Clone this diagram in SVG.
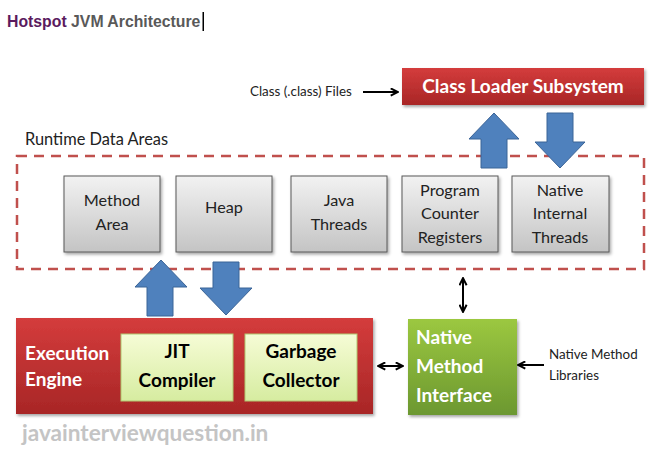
<svg xmlns="http://www.w3.org/2000/svg" width="663" height="455" viewBox="0 0 663 455">
<style>
.t{font-family:Lato,"Open Sans","Liberation Sans",sans-serif}
.gray{fill:url(#gg);stroke:#595959;stroke-width:1}
.gt{font-size:16.2px;fill:#222;text-anchor:middle}
.wb{font-size:19px;font-weight:bold;fill:#fff}
.kb{font-size:19px;font-weight:bold;fill:#000;text-anchor:middle}
.sm{font-size:13.4px;fill:#222}
.blue{fill:#4f81bd;stroke:#3b6497;stroke-width:1}
.ln{stroke:#000;stroke-width:2;fill:none}
</style>
<defs>
<linearGradient id="gg" x1="0" y1="0" x2="0" y2="1"><stop offset="0" stop-color="#f2f2f2"/><stop offset="1" stop-color="#c4c4c4"/></linearGradient>
<linearGradient id="rg" x1="0" y1="0" x2="0" y2="1"><stop offset="0" stop-color="#d43c3c"/><stop offset="1" stop-color="#a82626"/></linearGradient>
<linearGradient id="yg" x1="0" y1="0" x2="0" y2="1"><stop offset="0" stop-color="#f6fcd6"/><stop offset="1" stop-color="#d6eca0"/></linearGradient>
<linearGradient id="ng" x1="0" y1="0" x2="0" y2="1"><stop offset="0" stop-color="#9cc840"/><stop offset="1" stop-color="#6c9830"/></linearGradient>
<filter id="sh" x="-10%" y="-10%" width="130%" height="140%"><feDropShadow dx="1.5" dy="2" stdDeviation="1.5" flood-color="#000" flood-opacity="0.35"/></filter>
<marker id="ah" viewBox="0 0 10 10" refX="8" refY="5" markerWidth="4.5" markerHeight="4.5" orient="auto-start-reverse"><path d="M1,1 L9,5 L1,9" fill="none" stroke="#000" stroke-width="2.2"/></marker>
</defs>
<rect width="663" height="455" fill="#fff"/>

<g id="title">
<text x="7" y="27" font-family="'Liberation Sans',Arial,sans-serif" font-size="15.8" font-weight="bold"><tspan fill="#5b1a5e">Hotspot</tspan><tspan fill="#595959"> JVM Architecture</tspan></text>
<rect x="202.5" y="12" width="1.5" height="19" fill="#000"/>
</g>

<g id="class-files"><text class="t sm" x="250" y="96">Class (.class) Files</text></g>

<g id="class-loader">
<rect x="402" y="68" width="242" height="37" fill="url(#rg)" filter="url(#sh)"/>
<text class="t wb" x="523" y="93" text-anchor="middle" font-size="19.8">Class Loader Subsystem</text>
</g>

<g id="runtime-data-areas">
<text class="t" x="25" y="145" font-size="16.4" fill="#222">Runtime Data Areas</text>
<rect x="17" y="156" width="627" height="113" fill="none" stroke="#c0504d" stroke-width="2.5" stroke-dasharray="10 7"/>
</g>

<g id="method-area"><rect class="gray" x="64" y="176" width="96" height="76" filter="url(#sh)"/>
<text class="t gt" x="112" y="206">Method</text><text class="t gt" x="112" y="230">Area</text></g>
<g id="heap"><rect class="gray" x="176" y="176" width="96" height="76" filter="url(#sh)"/>
<text class="t gt" x="224" y="213">Heap</text></g>
<g id="java-threads"><rect class="gray" x="291" y="176" width="96" height="76" filter="url(#sh)"/>
<text class="t gt" x="339" y="206">Java</text><text class="t gt" x="339" y="230">Threads</text></g>
<g id="pc-registers"><rect class="gray" x="402" y="176" width="96" height="76" filter="url(#sh)"/>
<text class="t gt" x="450" y="196">Program</text><text class="t gt" x="450" y="219">Counter</text><text class="t gt" x="450" y="243">Registers</text></g>
<g id="native-internal-threads"><rect class="gray" x="512" y="176" width="97" height="76" filter="url(#sh)"/>
<text class="t gt" x="560" y="196">Native</text><text class="t gt" x="560" y="219">Internal</text><text class="t gt" x="560" y="243">Threads</text></g>

<g id="execution-engine">
<rect x="16" y="318" width="357" height="96" fill="url(#rg)" filter="url(#sh)"/>
<text class="t wb" x="25" y="360">Execution</text>
<text class="t wb" x="25" y="386">Engine</text>
</g>
<g id="jit-compiler"><rect x="121" y="334" width="112" height="67" fill="url(#yg)" stroke="#b0c870" stroke-width="1"/>
<text class="t kb" x="177" y="358">JIT</text><text class="t kb" x="177" y="387">Compiler</text></g>
<g id="garbage-collector"><rect x="245" y="334" width="112" height="67" fill="url(#yg)" stroke="#b0c870" stroke-width="1"/>
<text class="t kb" x="301" y="358">Garbage</text><text class="t kb" x="301" y="387">Collector</text></g>

<g id="native-method-interface">
<rect x="408" y="319" width="109" height="96" fill="url(#ng)" filter="url(#sh)"/>
<text class="t wb" x="416" y="344" font-size="19.5">Native</text>
<text class="t wb" x="416" y="373" font-size="19.5">Method</text>
<text class="t wb" x="416" y="402" font-size="19.5">Interface</text>
</g>

<g id="native-method-libraries"><text class="t sm" x="549" y="359">Native Method</text><text class="t sm" x="549" y="380">Libraries</text></g>

<g id="connectors">
<polygon class="blue" points="481,168 481,139 469,139 494,113 519,139 507,139 507,168"/>
<polygon class="blue" points="547,113 573,113 573,142 585,142 560,168 535,142 547,142"/>
<polygon class="blue" points="147,316 147,287 135,287 161,260 187,287 173,287 173,316"/>
<polygon class="blue" points="213,262 239,262 239,288 252,288 226,315 200,288 213,288"/>
<line class="ln" x1="363" y1="92" x2="397" y2="92" marker-end="url(#ah)"/>
<line class="ln" x1="544" y1="365" x2="519" y2="365" marker-end="url(#ah)"/>
<line class="ln" x1="379" y1="366" x2="402" y2="366" marker-start="url(#ah)" marker-end="url(#ah)"/>
<line class="ln" x1="463" y1="279" x2="463" y2="311" marker-start="url(#ah)" marker-end="url(#ah)"/>
</g>

<g id="watermark"><text class="t" x="22" y="441" font-size="22.6" font-weight="bold" fill="#c4c4c4">javainterviewquestion.in</text></g>
</svg>
